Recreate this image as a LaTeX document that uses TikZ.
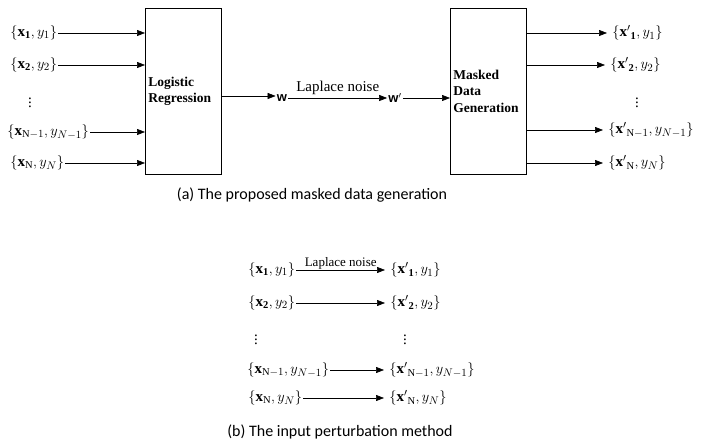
\documentclass[tikz,border=0pt]{standalone}
\usepackage{amsmath}
\usepackage{fontspec}
\setmainfont{Liberation Serif}
\newfontfamily\capfont{Carlito}
\newfontfamily\wfont{Liberation Sans}
\usetikzlibrary{arrows.meta, positioning, calc}
\tikzset{
    maskdiagram/.style={>={Triangle[length=8pt,width=6pt]}, line width=0.6pt, x=1pt, y=-1pt},
    block/.style={draw, minimum width=75pt, minimum height=166pt, align=left,
        text width=70pt, inner xsep=3pt, font=\fontsize{13.5}{16.5}\selectfont\bfseries},
    sample/.style={inner sep=1pt, font=\fontsize{15}{17}\selectfont},
    target/.style={sample, inner xsep=5pt},
    weight/.style={inner sep=1pt, font=\fontsize{13}{15}\selectfont\wfont\bfseries},
    noise/.style={inner sep=1pt, font=\fontsize{15}{17}\selectfont},
    caption/.style={font=\fontsize{16}{18}\selectfont\capfont},
}

\begin{document}
\begin{tikzpicture}[maskdiagram]
    \useasboundingbox (0,0) rectangle (721,443);

    % (a) masked data generation
    \node[block, anchor=north west] (lr) at (145,8)  {Logistic\\Regression};
    \node[block, anchor=north west] (mdg) at (450,8) {Masked\\Data\\Generation};

    \node[sample, anchor=west] (in1) at (9,33)    {$\{\mathbf{x}_{\mathbf{1}}, y_1\}$};
    \node[sample, anchor=west] (in2) at (9,65)    {$\{\mathbf{x}_{\mathbf{2}}, y_2\}$};
    \node[sample]              (ind) at (30,100)  {$\vdots$};
    \node[sample, anchor=west] (inm) at (6,132)   {$\{\mathbf{x}_{\mathrm{N}-1}, y_{N-1}\}$};
    \node[sample, anchor=west] (inn) at (9,163)   {$\{\mathbf{x}_{\mathrm{N}}, y_N\}$};

    \foreach \i in {in1, in2, inm, inn}
        \draw[->] (\i) -- (lr.west |- \i);

    \node[weight] (w)  at (282,98) {w};
    \node[weight] (wp) at (395,98) {w$'$};
    \draw[->] (lr.east |- 0,96) -- (w.west |- 0,96);
    \draw[->] (w.east) -- node[noise, above=2pt] {Laplace noise} (wp.west);
    \draw[->] (wp.east) -- (mdg.west |- wp);

    \node[target, anchor=west] (out1) at (607,33)  {$\{{\mathbf{x}'}_{\mathbf{1}}, y_1\}$};
    \node[target, anchor=west] (out2) at (605,65)  {$\{{\mathbf{x}'}_{\mathbf{2}}, y_2\}$};
    \node[sample]              (outd) at (637,100) {$\vdots$};
    \node[target, anchor=west] (outm) at (603,130) {$\{{\mathbf{x}'}_{\mathrm{N}-1}, y_{N-1}\}$};
    \node[target, anchor=west] (outn) at (603,163) {$\{{\mathbf{x}'}_{\mathrm{N}}, y_N\}$};

    \foreach \i in {out1, out2, outm, outn}
        \draw[->] (mdg.east |- \i) -- (\i);

    \node[caption] (capa) at (312,195) {(a) The proposed masked data generation};

    % (b) input perturbation
    \node[sample, anchor=west] (b1) at (247,270) {$\{\mathbf{x}_{\mathbf{1}}, y_1\}$};
    \node[sample, anchor=west] (b2) at (247,303) {$\{\mathbf{x}_{\mathbf{2}}, y_2\}$};
    \node[sample]              (bd) at (256,337) {$\vdots$};
    \node[sample, anchor=west] (bm) at (246,370) {$\{\mathbf{x}_{\mathrm{N}-1}, y_{N-1}\}$};
    \node[sample, anchor=west] (bn) at (247,398) {$\{\mathbf{x}_{\mathrm{N}}, y_N\}$};

    \node[target, anchor=west] (c1) at (385,270) {$\{{\mathbf{x}'}_{\mathbf{1}}, y_1\}$};
    \node[target, anchor=west] (c2) at (385,303) {$\{{\mathbf{x}'}_{\mathbf{2}}, y_2\}$};
    \node[sample]              (cd) at (405,337) {$\vdots$};
    \node[target, anchor=west] (cm) at (384,370) {$\{{\mathbf{x}'}_{\mathrm{N}-1}, y_{N-1}\}$};
    \node[target, anchor=west] (cn) at (384,398) {$\{{\mathbf{x}'}_{\mathrm{N}}, y_N\}$};

    \draw[->] (b1) -- node[noise, font=\fontsize{13}{15}\selectfont, above=-1pt] {Laplace noise} (c1);
    \foreach \i/\j in {b2/c2, bm/cm, bn/cn}
        \draw[->] (\i) -- (\j);

    \node[caption] (capb) at (340,432) {(b) The input perturbation method};
\end{tikzpicture}
\end{document}
